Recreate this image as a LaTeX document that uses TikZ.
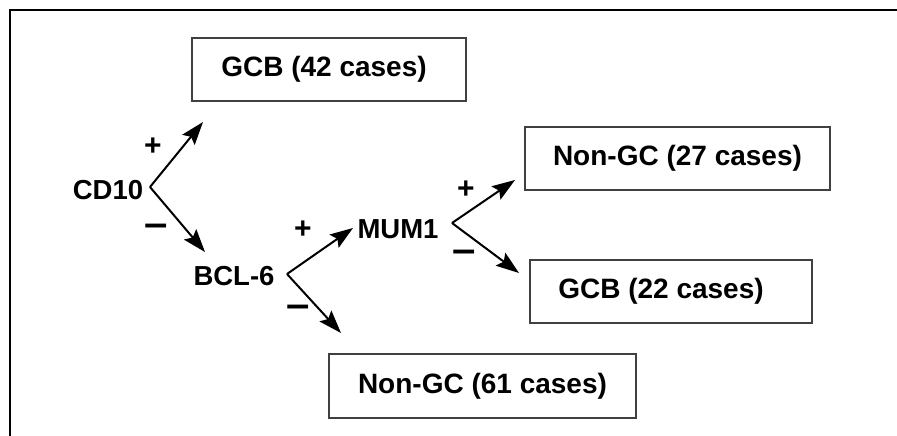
\documentclass[tikz,border=0pt]{standalone}
\usepackage{fontspec}
\setmainfont{Liberation Sans}
\usetikzlibrary{arrows.meta}
\begin{document}
\begin{tikzpicture}[x=1pt,y=-1pt,
  lbl/.style={font=\fontsize{27.5}{32}\selectfont\bfseries, inner sep=0pt},
  casebox/.style={draw=black!75, line width=2.4pt, font=\fontsize{28}{32}\selectfont\bfseries, inner sep=0pt},
  sign/.style={font=\fontsize{30}{34}\selectfont\bfseries, inner sep=0pt},
  arr/.style={line width=2pt, -{Stealth[length=23pt,width=16pt,inset=4pt]}}
]
\useasboundingbox (0,0) rectangle (897,436);
% frame
\draw[line width=2pt] (10,436) -- (10,10) -- (897,10);

% boxes
\node[casebox, minimum width=274, minimum height=63] (gcb42) at (329,69.5) {GCB (42 cases)\hspace*{10pt}};
\node[casebox, minimum width=305, minimum height=63] (ngc27) at (677.5,158.5) {Non-GC (27 cases)};
\node[casebox, minimum width=282, minimum height=63] (gcb22) at (671,291.5) {GCB (22 cases)\hspace*{20pt}};
\node[casebox, minimum width=307, minimum height=64] (ngc61) at (482.5,386) {Non-GC (61 cases)};

% markers
\node[lbl] (cd10) at (108,190) {CD10};
\node[lbl] (bcl6) at (234,276) {BCL-6};
\node[lbl] (mum1) at (398,229) {MUM1};

% branch points and arrow tips
\coordinate (v1) at (150,187);
\coordinate (t1a) at (203,122);
\coordinate (t1b) at (205,252);
\coordinate (v2) at (287,274);
\coordinate (t2a) at (353,228);
\coordinate (t2b) at (341,333);
\coordinate (v3) at (452,223);
\coordinate (t3a) at (515,180);
\coordinate (t3b) at (519,273);

\draw[arr] (v1) -- (t1a);
\draw[arr] (v1) -- (t1b);
\draw[arr] (v2) -- (t2a);
\draw[arr] (v2) -- (t2b);
\draw[arr] (v3) -- (t3a);
\draw[arr] (v3) -- (t3b);

% signs
\node[sign] (p1) at (153,147) {+};
\node[sign] (m1) at (156,230) {\scalebox{1.4}[1.3]{–}};
\node[sign] (p2) at (303,230) {+};
\node[sign] (m2) at (298,311) {\scalebox{1.4}[1.3]{–}};
\node[sign] (p3) at (466,190) {+};
\node[sign] (m3) at (464,256) {\scalebox{1.4}[1.3]{–}};
\end{tikzpicture}
\end{document}
